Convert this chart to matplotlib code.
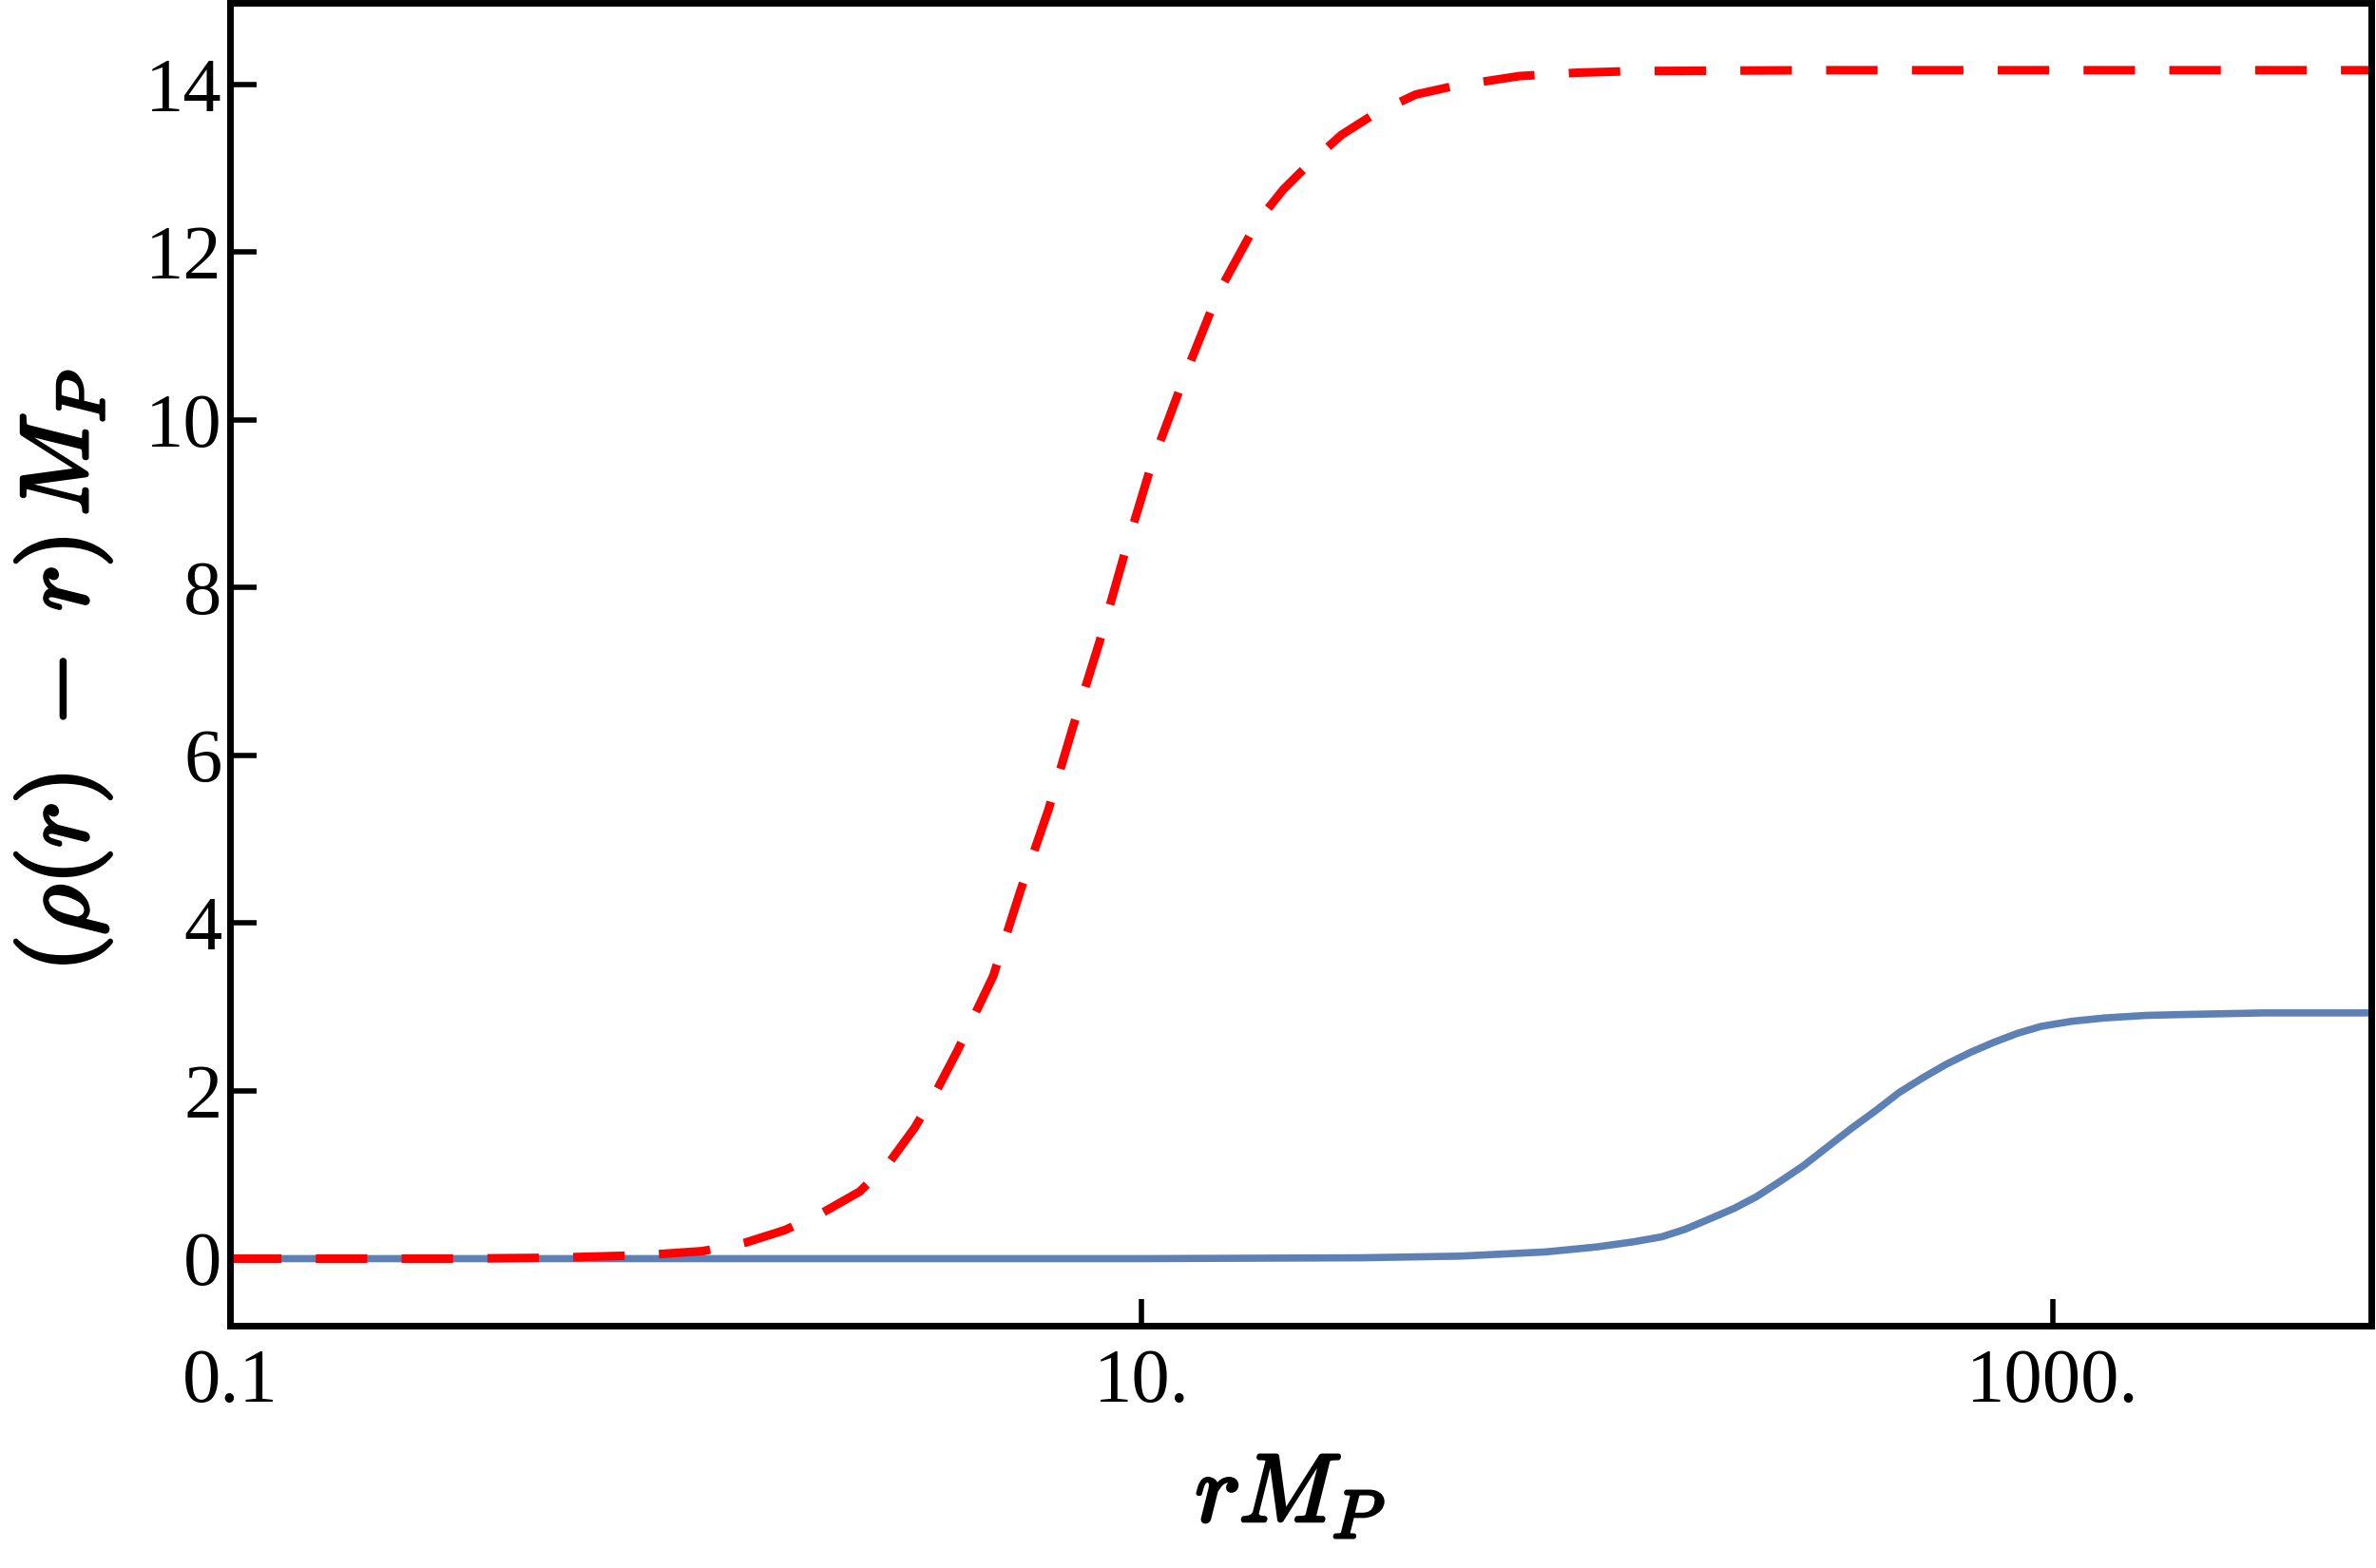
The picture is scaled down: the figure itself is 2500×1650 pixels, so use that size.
import matplotlib
matplotlib.use("Agg")
import matplotlib.pyplot as plt
import matplotlib.patheffects as pe

plt.rcParams['mathtext.fontset'] = 'cm'

# solid blue curve
blue_x = [0.1, 1.0, 10.0, 30.0, 50.0, 77.0, 100.0, 120.0, 138.6, 156.0, 176.0, 200.0,
          224.0, 252.0, 284.0, 320.0, 361.0, 410.0, 460.0, 520.0, 585.0, 660.0, 743.0,
          840.0, 944.0, 1100.0, 1300.0, 1600.0, 1900.0, 2900.0, 5000.0]
blue_y = [0.0, 0.0, 0.0, 0.01, 0.03, 0.08, 0.14, 0.20, 0.26, 0.35, 0.47, 0.60,
          0.74, 0.92, 1.11, 1.33, 1.55, 1.77, 1.98, 2.16, 2.32, 2.46, 2.58,
          2.69, 2.77, 2.83, 2.87, 2.90, 2.91, 2.93, 2.93]

# dashed red curve
red_x = [0.1, 0.3, 0.5, 0.8, 1.09, 1.35, 1.65, 2.0, 2.41, 2.8, 3.18, 3.55, 3.94, 4.73,
         5.43, 6.25, 7.05, 8.09, 9.18, 10.5, 12.4, 14.7, 17.9, 20.5, 23.3, 27.5, 32.5,
         40.0, 48.4, 67.5, 90.0, 120.0, 300.0, 5000.0]
red_y = [0.0, 0.0, 0.01, 0.04, 0.09, 0.19, 0.34, 0.55, 0.80, 1.15, 1.56, 2.0, 2.47, 3.37,
         4.39, 5.35, 6.31, 7.35, 8.4, 9.45, 10.5, 11.5, 12.35, 12.75, 13.05, 13.4, 13.65,
         13.88, 13.98, 14.1, 14.14, 14.16, 14.17, 14.17]

xticks = [0.1, 10, 1000]
xtick_labels = ['0.1', '10.', '1000.']
yticks = [0, 2, 4, 6, 8, 10, 12, 14]

fig = plt.figure(figsize=(25, 16.5), dpi=100)
ax = fig.add_axes([0.0968, 0.1545, 0.9012, 0.8435])

ax.plot(blue_x, blue_y, color='#5E81B5', lw=5.5, solid_joinstyle='round')
ax.plot(red_x, red_y, color='#FF0000', lw=6.5, dashes=(6.0, 4.0))

ax.set_xscale('log')
ax.set_xlim(0.1, 5000)
ax.set_ylim(-0.8, 14.97)

ax.set_xticks(xticks)
ax.set_xticklabels(xtick_labels)
ax.minorticks_off()
ax.set_yticks(yticks)
ax.set_yticklabels([str(v) for v in yticks])

for sp in ax.spines.values():
    sp.set_linewidth(5)
ax.tick_params(direction='in', length=20, width=4, top=False, right=False,
               labelsize=58)
ax.tick_params(axis='x', pad=17)
ax.tick_params(axis='y', pad=6)
for lab in ax.get_xticklabels() + ax.get_yticklabels():
    lab.set_fontfamily('Liberation Serif')

bold = [pe.withStroke(linewidth=2.5, foreground='black')]
ax.set_xlabel(r'$rM_P$', fontsize=73, path_effects=bold)
ax.xaxis.set_label_coords(0.495, -0.128)
ax.xaxis.label.set_va('center')
ax.set_ylabel(r'$(\rho(r)\;-\;r)\,M_P$', fontsize=73, path_effects=bold)
ax.yaxis.set_label_coords(-0.078, 0.495)
ax.yaxis.label.set_va('center')

fig.savefig('out.png', dpi=100)
